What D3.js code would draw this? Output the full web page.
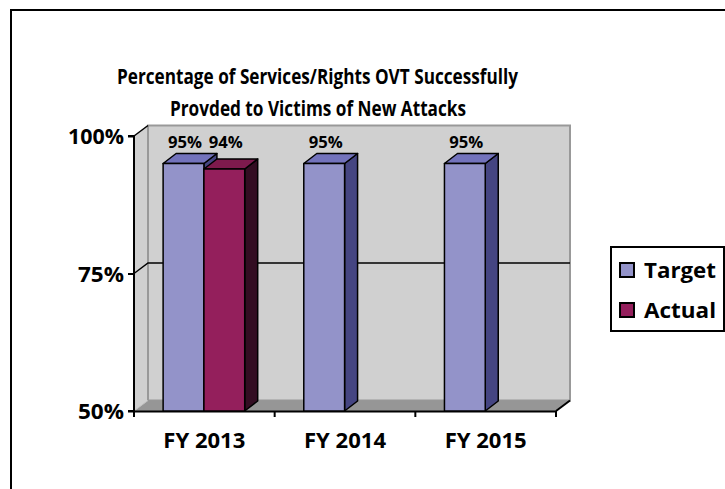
<!DOCTYPE html>
<html><head><meta charset="utf-8">
<script src="https://cdn.jsdelivr.net/npm/d3@7/dist/d3.min.js"></script>
<style>body{margin:0;background:#fff}svg{display:block}text{font-family:"Open Sans",sans-serif;font-weight:700;fill:#000}</style>
</head><body>
<script>
const categories = ["FY 2013","FY 2014","FY 2015"];
const targetValues = [95,95,95];
const actualValues = [94,null,null];
const yTicks = [50,75,100];
const titleLines = ["Percentage of Services/Rights OVT Successfully","Provded to Victims of New Attacks"];
const seriesNames = ["Target","Actual"];

const W=725,H=489;
const svg=d3.select("body").append("svg").attr("width",W).attr("height",H);
// fit text to a width (Calibri-like narrow rendering)
function fit(sel,w){ sel.attr("textLength",w).attr("lengthAdjust","spacingAndGlyphs"); return sel; }

// outer border
svg.append("rect").attr("x",11).attr("y",10).attr("width",900).attr("height",700).attr("fill","none").attr("stroke","#000").attr("stroke-width",2);

const x=d3.scaleBand().domain(categories).range([134,556]).paddingInner(0).paddingOuter(0);
const y=d3.scaleLinear().domain([50,100]).range([411,136]);
const DX=14, DY=-10.5, BDX=13, BDY=-10;
const x0=x.range()[0], x1=x.range()[1];

// back wall
svg.append("rect").attr("x",x0+DX).attr("y",y(100)+DY).attr("width",x1-x0).attr("height",y(50)-y(100))
  .attr("fill","#D0D0D0").attr("stroke","#999").attr("stroke-width",2);
// side wall
svg.append("polygon").attr("points",[[x0,y(50)],[x0,y(100)],[x0+DX,y(100)+DY],[x0+DX,y(50)+DY]].join(" "))
  .attr("fill","#D0D0D0");
svg.append("line").attr("x1",x0+DX).attr("x2",x0+DX).attr("y1",y(100)+DY).attr("y2",y(50)+DY).attr("stroke","#999").attr("stroke-width",2);
// floor
svg.append("polygon").attr("points",[[x0,y(50)],[x1,y(50)],[x1+DX,y(50)+DY],[x0+DX,y(50)+DY]].join(" "))
  .attr("fill","#969696");
svg.append("line").attr("x1",x0).attr("y1",y(50)).attr("x2",x0+DX).attr("y2",y(50)+DY).attr("stroke","#c0c0c0").attr("stroke-width",1);
svg.append("line").attr("x1",x1).attr("y1",y(50)).attr("x2",x1+DX).attr("y2",y(50)+DY).attr("stroke","#000").attr("stroke-width",2);

// gridlines
[75].forEach(v=>{
  svg.append("polyline").attr("points",[[x0,y(v)],[x0+DX,y(v)+DY],[x1+DX,y(v)+DY]].join(" "))
    .attr("fill","none").attr("stroke","#000").attr("stroke-width",1.5);
});
svg.append("line").attr("x1",x0).attr("y1",y(100)).attr("x2",x0+DX).attr("y2",y(100)+DY).attr("stroke","#000").attr("stroke-width",1.5);

// axes
const yAxis=d3.axisLeft(y).tickValues(yTicks).tickSize(6).tickFormat(d=>d+"%");
const gy=svg.append("g").attr("transform",`translate(${x0},0)`).call(yAxis);
gy.select(".domain").attr("stroke","#000").attr("stroke-width",2).attr("d",`M-6,${y(100)}H0V${y(50)}H-6`);
gy.selectAll(".tick line").attr("stroke","#000").attr("stroke-width",2);
gy.selectAll(".tick text").attr("x",-10).attr("dy","7.5px").attr("font-family",null).attr("font-size",null)
  .style("font-size","21px").each(function(d){ fit(d3.select(this), d===100?56:46); });

const xAxis=d3.axisBottom(x).tickSize(0).tickSizeOuter(0);
const gx=svg.append("g").attr("transform",`translate(0,${y(50)})`).call(xAxis);
gx.select(".domain").attr("stroke","#000").attr("stroke-width",2);
gx.selectAll(".tick text").attr("y",36.5).attr("dy","0").attr("font-family",null).attr("font-size",null)
  .style("font-size","21px").each(function(){ fit(d3.select(this),82); });
// boundary ticks
const bounds=[...categories.map(c=>x(c)), x1];
svg.selectAll(".btick").data(bounds).enter().append("line").attr("x1",d=>d).attr("x2",d=>d)
  .attr("y1",y(50)).attr("y2",y(50)+6).attr("stroke","#000").attr("stroke-width",2);

// bars
const bw=x.bandwidth()*0.29, off=x.bandwidth()*0.207;
const styles=[{front:"#9393C9",top:"#7373BC",side:"#454582"},{front:"#941F5C",top:"#7E1A4D",side:"#330D22"}];
function bar(xl,v,st){
  const yt=y(v), yb=y(50), xr=xl+bw;
  const g=svg.append("g").attr("stroke","#000").attr("stroke-width",1.5).attr("stroke-linejoin","round");
  g.append("polygon").attr("points",[[xr,yb],[xr,yt],[xr+BDX,yt+BDY],[xr+BDX,yb+BDY]].join(" ")).attr("fill",st.side);
  g.append("polygon").attr("points",[[xl,yt],[xr,yt],[xr+BDX,yt+BDY],[xl+BDX,yt+BDY]].join(" ")).attr("fill",st.top);
  g.append("rect").attr("x",xl).attr("y",yt).attr("width",bw).attr("height",yb-yt).attr("fill",st.front);
}
categories.forEach((c,i)=>{
  const xt=x(c)+off;
  const vals=[targetValues[i],actualValues[i]];
  const top=d3.max(vals.filter(v=>v!=null));
  vals.forEach((v,j)=>{
    if(v==null) return;
    bar(xt+j*bw,v,styles[j]);
  });
  vals.forEach((v,j)=>{
    if(v==null) return;
    const xl=xt+j*bw;
    const t=svg.append("text").attr("x",xl+bw/2+BDX/2-5-17).attr("y",y(top)+BDY-5.5)
      .style("font-size","16px").text(v+"%");
    fit(t,34);
  });
});

// title
svg.selectAll(".title").data(titleLines).enter().append("text").attr("x",(d,i)=>i===0?117:170).attr("y",(d,i)=>84+i*32)
  .style("font-size","22px").text(d=>d).each(function(d,i){ fit(d3.select(this), i===0?401:296); });

// legend
const lg=svg.append("g");
lg.append("rect").attr("x",611).attr("y",247).attr("width",113).attr("height",84).attr("fill","#fff").attr("stroke","#000").attr("stroke-width",2);
seriesNames.forEach((n,i)=>{
  lg.append("rect").attr("x",620).attr("y",263+i*40).attr("width",14).attr("height",14).attr("fill",styles[i].front).attr("stroke","#000").attr("stroke-width",2);
  fit(lg.append("text").attr("x",644).attr("y",278+i*40).style("font-size","21px").text(n),72);
});
</script>
</body></html>
